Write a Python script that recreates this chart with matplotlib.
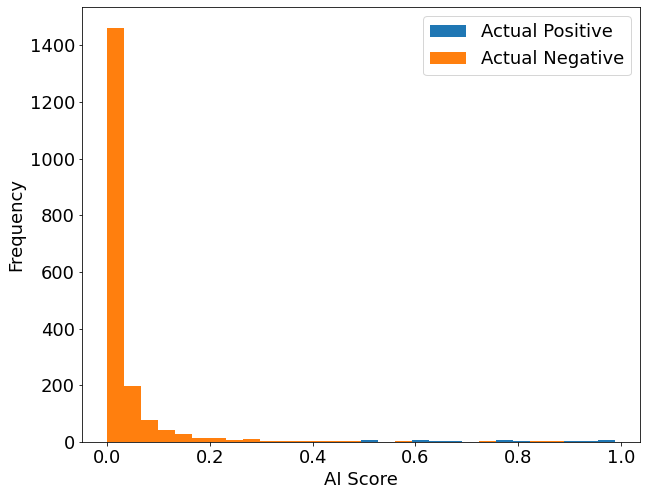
import numpy as np
import matplotlib
matplotlib.use("Agg")
from matplotlib import pyplot as plt

# shared bin edges (30 bins over the score range)
BIN_LO, BIN_HI, N_BINS = 0.0, 0.988, 30

# counts per bin
positive_counts = [0, 0, 0, 0, 0, 0, 0, 0, 0, 0,
                   0, 0, 0, 0, 0, 7, 0, 1, 6, 3,
                   3, 0, 1, 6, 3, 1, 1, 3, 3, 6]
negative_counts = [1462, 198, 78, 42, 28, 14, 14, 7, 10, 3,
                   3, 3, 3, 3, 3, 1, 0, 3, 1, 0,
                   0, 0, 3, 1, 0, 3, 3, 0, 0, 0]

edges = np.linspace(BIN_LO, BIN_HI, N_BINS + 1)
centers = (edges[:-1] + edges[1:]) / 2

plt.rcParams["font.size"] = 18

fig, ax = plt.subplots(figsize=(646 / 72, 496 / 72), dpi=72)
fig.subplots_adjust(left=82 / 646, right=640 / 646, top=1 - 7 / 496, bottom=1 - 442 / 496)

ax.hist(centers, bins=edges, weights=positive_counts, color="#1f77b4", label="Actual Positive")
ax.hist(centers, bins=edges, weights=negative_counts, color="#ff7f0e", label="Actual Negative")

ax.set_xlabel("AI Score")
ax.set_ylabel("Frequency")
ax.set_xticks([0.0, 0.2, 0.4, 0.6, 0.8, 1.0])
ax.set_yticks(range(0, 1401, 200))
ax.legend(loc="upper right")

plt.savefig("out.png", dpi=72)
